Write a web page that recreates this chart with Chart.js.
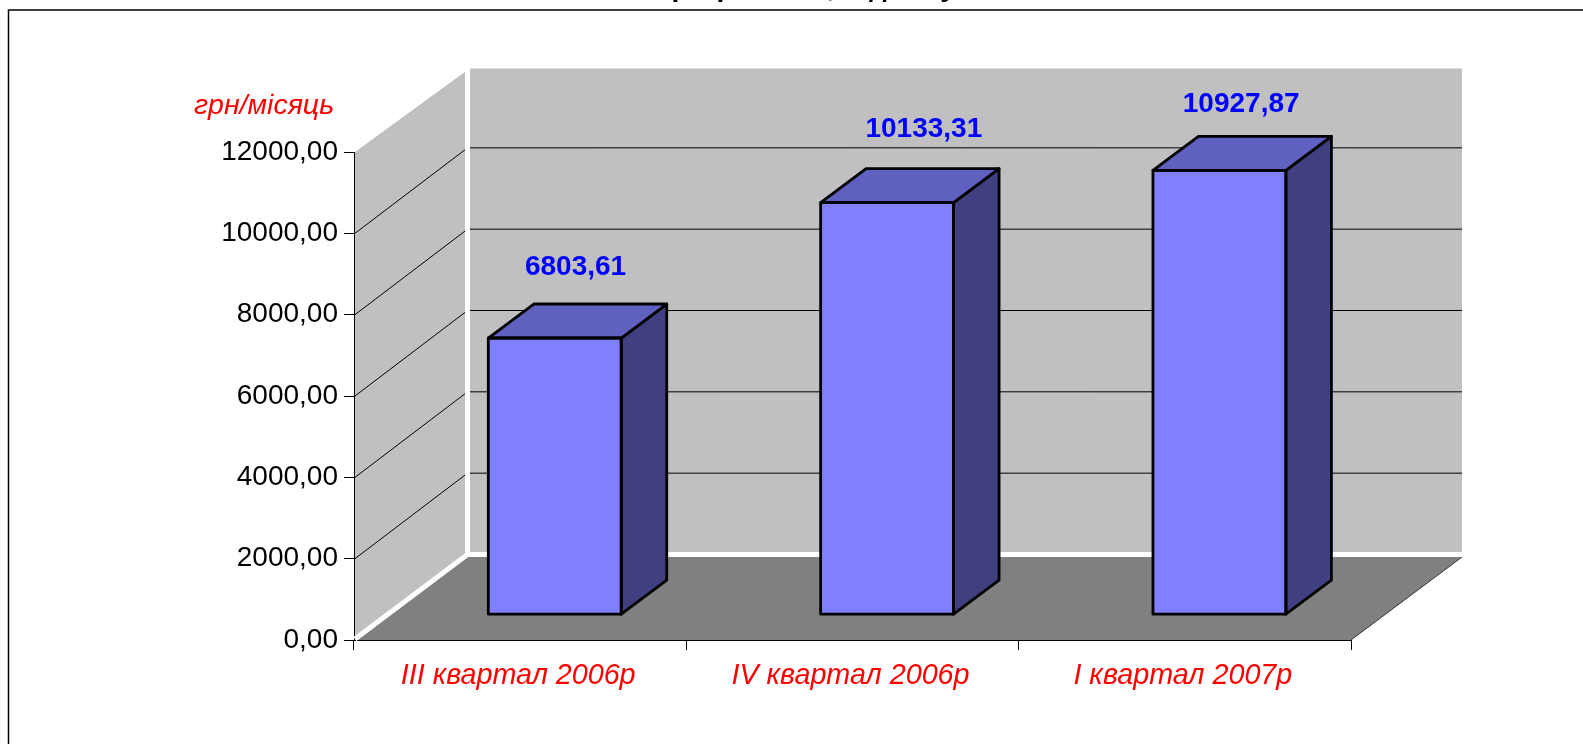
<!DOCTYPE html>
<html>
<head>
<meta charset="utf-8">
<script src="https://cdn.jsdelivr.net/npm/chart.js@4"></script>
<style>
  html, body { margin: 0; padding: 0; background: #fff; overflow: hidden; }
  #wrap { width: 1583px; height: 744px; }
</style>
</head>
<body>
<div id="wrap"><canvas id="myBarChart" width="1583" height="744"></canvas></div>
<script>
const categories = ['III квартал 2006р', 'IV квартал 2006р', 'I квартал 2007р'];
const salaries = [6803.61, 10133.31, 10927.87];
const valueLabels = ['6803,61', '10133,31', '10927,87'];
const yTicks = [0, 2000, 4000, 6000, 8000, 10000, 12000];
const unitLabel = 'грн/місяць';

// the title is cut off by the page edge, only the tails of these letters show
const titleTails = ['р', 'р', ',', 'д', 'у'];
const titleTailX = [680, 725, 831, 878, 948];

const fontName = '"Liberation Sans", Arial, sans-serif';

// depth of the fake 3d box and of the bars inside it
const boxDx = 113.5, boxDy = -85.5;
const barOffX = 34.6, barOffY = -25.3;
const barDx = 45.5, barDy = -34;

// hand placed value labels, same as in the original
const labelNudgeX = [-2, 14, -1];
const labelNudgeY = [0, -2, 5];

const box3d = {
  id: 'box3d',
  beforeDatasetsDraw(chart) {
    const c = chart.ctx, a = chart.chartArea, y = chart.scales.y;
    const bx = a.left + boxDx, by = a.bottom + boxDy;
    const topBack = a.top + boxDy;
    const rightBack = a.right + boxDx - 2.5;
    c.save();

    // frame and clipped title
    c.fillStyle = '#000';
    c.font = 'bold 28px ' + fontName;
    c.textAlign = 'center';
    c.textBaseline = 'alphabetic';
    titleTails.forEach((t, i) => c.fillText(t, titleTailX[i], -4));
    c.strokeStyle = '#000';
    c.lineWidth = 1.5;
    c.beginPath();
    c.moveTo(8.5, 744);
    c.lineTo(8.5, 10);
    c.lineTo(1583, 10);
    c.stroke();

    // walls and floor
    c.fillStyle = '#c0c0c0';
    c.fillRect(bx, topBack + 2, rightBack - bx, by - topBack - 2);
    c.beginPath();
    c.moveTo(a.left + 1, a.top);
    c.lineTo(bx, topBack + 3.5);
    c.lineTo(bx, by);
    c.lineTo(a.left + 1, a.bottom);
    c.closePath();
    c.fill();

    c.fillStyle = '#808080';
    c.beginPath();
    c.moveTo(a.left, a.bottom);
    c.lineTo(a.right, a.bottom);
    c.lineTo(rightBack, by + 2.5);
    c.lineTo(bx, by);
    c.closePath();
    c.fill();

    c.strokeStyle = '#333';
    c.lineWidth = 1;
    c.beginPath();
    c.moveTo(a.right, a.bottom);
    c.lineTo(rightBack, by + 2.5);
    c.stroke();

    // grid lines on both walls
    c.strokeStyle = '#000';
    c.lineWidth = 1;
    yTicks.slice(1, -1).forEach(v => {
      const py = y.getPixelForValue(v);
      c.beginPath();
      c.moveTo(a.left + 1, py);
      c.lineTo(bx, py + boxDy);
      c.lineTo(rightBack, py + boxDy);
      c.stroke();
    });

    // white edges of the box
    c.strokeStyle = '#fff';
    c.lineWidth = 5;
    c.lineJoin = 'miter';
    c.beginPath();
    c.moveTo(bx, topBack);
    c.lineTo(bx, by);
    c.lineTo(rightBack, by);
    c.moveTo(a.left + 1, a.bottom - 1);
    c.lineTo(bx, by);
    c.stroke();

    // front faces get drawn by the library, shifted into the box
    c.restore();
    c.save();
    c.translate(barOffX, barOffY);
  },
  afterDatasetsDraw(chart) {
    const c = chart.ctx;
    const bars = chart.getDatasetMeta(0).data;
    bars.forEach(b => {
      const x0 = b.x - b.width / 2, x1 = b.x + b.width / 2;
      c.lineWidth = 2.8;
      c.lineJoin = 'round';
      c.strokeStyle = '#000';

      c.fillStyle = '#404080';
      c.beginPath();
      c.moveTo(x1, b.y);
      c.lineTo(x1 + barDx, b.y + barDy);
      c.lineTo(x1 + barDx, b.base + barDy);
      c.lineTo(x1, b.base);
      c.closePath();
      c.fill();
      c.stroke();

      c.fillStyle = '#6060c0';
      c.beginPath();
      c.moveTo(x0, b.y);
      c.lineTo(x0 + barDx, b.y + barDy);
      c.lineTo(x1 + barDx, b.y + barDy);
      c.lineTo(x1, b.y);
      c.closePath();
      c.fill();
      c.stroke();

      c.strokeRect(x0, b.y, b.width, b.base - b.y);
    });
    c.restore();

    // value labels over the bars
    c.save();
    c.fillStyle = '#0000ff';
    c.font = 'bold 28px ' + fontName;
    c.textAlign = 'center';
    c.textBaseline = 'middle';
    bars.forEach((b, i) => {
      c.fillText(valueLabels[i], b.x + barOffX + barDx / 2 + labelNudgeX[i], b.y + barOffY + barDy - 37 + labelNudgeY[i]);
    });

    // unit label above the y axis
    c.fillStyle = '#ff0000';
    c.font = 'italic 28.5px ' + fontName;
    c.textAlign = 'left';
    c.fillText(unitLabel, 194, 106);
    c.restore();
  }
};

const config = {
  type: 'bar',
  data: {
    labels: categories,
    datasets: [{
      label: 'Зарплата',
      data: salaries,
      backgroundColor: '#8080ff',
      borderWidth: 0,
      categoryPercentage: 1,
      barPercentage: 0.4
    }]
  },
  options: {
    responsive: false,
    animation: false,
    layout: { padding: { left: 0, top: 152, right: 232, bottom: 0 } },
    plugins: {
      legend: { display: false },
      tooltip: { enabled: false },
      title: { display: false }
    },
    scales: {
      x: {
        afterFit(s) { s.height = 104; },
        border: { display: true, color: '#000', width: 1 },
        grid: { drawOnChartArea: false, drawTicks: true, tickLength: 10, color: '#000', offset: true },
        ticks: {
          color: '#ff0000',
          font: { family: fontName, size: 28.7, style: 'italic' },
          padding: 9,
          labelOffset: -2,
          maxRotation: 0,
          autoSkip: false
        }
      },
      y: {
        min: 0,
        max: 12000,
        afterFit(s) { s.width = 354; },
        afterBuildTicks(s) { s.ticks = yTicks.map(v => ({ value: v })); },
        border: { display: true, color: '#000', width: 1 },
        grid: { drawOnChartArea: false, drawTicks: true, tickLength: 10, color: '#000' },
        ticks: {
          color: '#000',
          font: { family: fontName, size: 28 },
          padding: 6,
          callback: v => v.toFixed(2).replace('.', ',')
        }
      }
    }
  },
  plugins: [box3d]
};

const ctx = document.getElementById('myBarChart').getContext('2d');
const myBarChart = new Chart(ctx, config);
</script>
</body>
</html>
